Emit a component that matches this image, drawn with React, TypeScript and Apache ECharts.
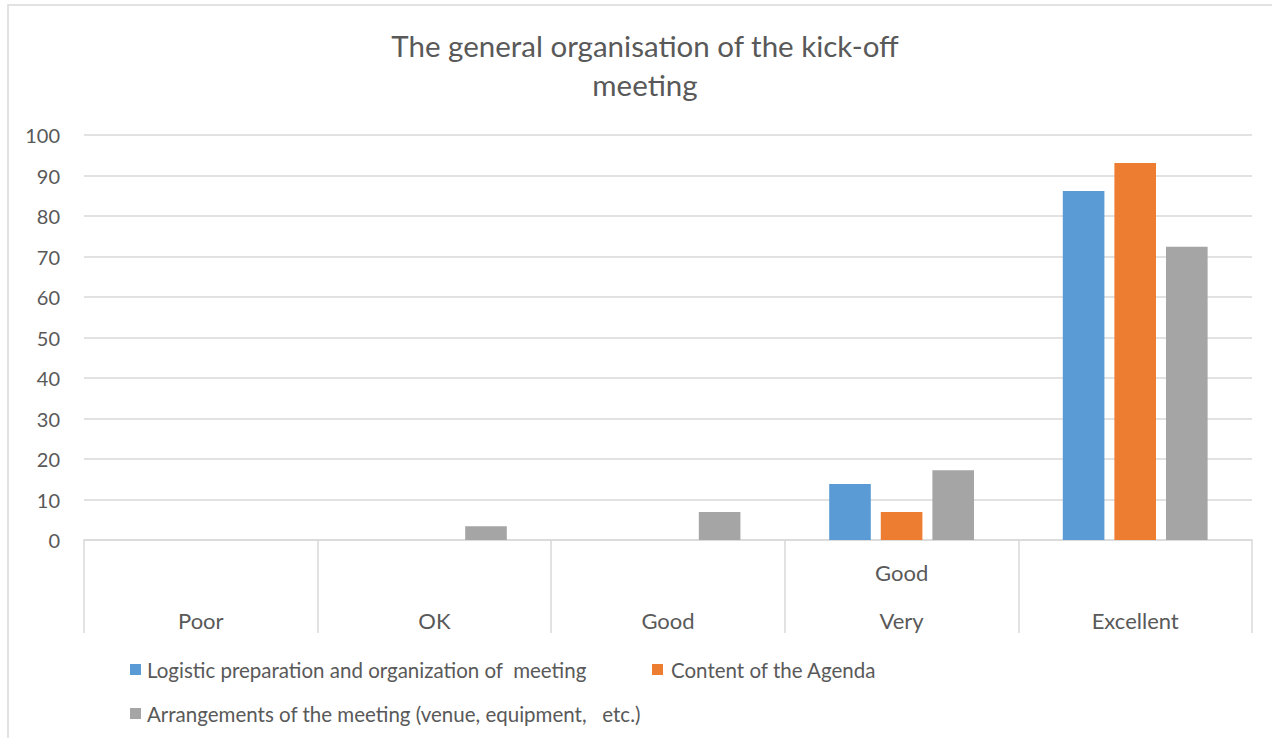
import React, { useEffect, useRef } from "react";
import * as echarts from "echarts";

const categories = ["Poor", "OK", "Good", "Very Good", "Excellent"];
const seriesNames = [
  "Logistic preparation and organization of  meeting",
  "Content of the Agenda",
  "Arrangements of the meeting (venue, equipment,   etc.)",
];
const logisticValues = [0, 0, 0, 13.8, 86.2];
const agendaValues = [0, 0, 0, 6.9, 93.1];
const arrangementValues = [0, 3.4, 6.9, 17.2, 72.4];
const yTicks = { min: 0, max: 100, interval: 10 };

const FONT = "Lato";
const TXT = "#595959";
const GRIDC = "#d9d9d9";
const COLORS = ["#5b9bd5", "#ed7d31", "#a5a5a5"];

export default function App() {
  const ref = useRef<HTMLDivElement>(null);
  useEffect(() => {
    if (!ref.current) return;
    const chart = echarts.init(ref.current, undefined, { renderer: "svg" });
    const values = [logisticValues, agendaValues, arrangementValues];
    const legendBase = {
      orient: "horizontal",
      itemWidth: 11,
      itemHeight: 11,
      itemGap: 5,
      icon: "rect",
      padding: 0,
    };
    const legendText = (padLeft: number) => ({
      fontFamily: FONT,
      fontSize: 20.5,
      lineHeight: 20,
      color: TXT,
      padding: [0, 0, 0, padLeft],
    });
    chart.setOption({
      animation: false,
      backgroundColor: "#ffffff",
      title: {
        text: "The general organisation of the kick-off\nmeeting",
        left: 645,
        textAlign: "center",
        top: 26,
        padding: 0,
        textStyle: {
          fontFamily: FONT,
          fontSize: 29.5,
          lineHeight: 39,
          fontWeight: "normal",
          color: TXT,
        },
      },
      graphic: [
        {
          type: "rect",
          shape: { x: 8, y: 5, width: 1400, height: 900 },
          style: { fill: "none", stroke: GRIDC, lineWidth: 1.5 },
          silent: true,
        },
      ],
      legend: [
        { ...legendBase, left: 130, top: 659, data: [seriesNames[0]], textStyle: legendText(1) },
        { ...legendBase, left: 652, top: 659, data: [seriesNames[1]], textStyle: legendText(3) },
        { ...legendBase, left: 130, top: 703, data: [seriesNames[2]], textStyle: legendText(1) },
      ],
      grid: { left: 84, right: 20, top: 135, bottom: 198, containLabel: false },
      xAxis: {
        type: "category",
        data: categories,
        axisLine: { lineStyle: { color: GRIDC, width: 1.5 } },
        axisTick: { show: true, interval: 0, length: 93, lineStyle: { color: GRIDC, width: 1.5 } },
        axisLabel: {
          interval: 0,
          fontFamily: FONT,
          fontSize: 22,
          color: TXT,
          lineHeight: 48,
          verticalAlign: "bottom",
          margin: 104,
          formatter: (v: string) => (v === "Very Good" ? "Good\nVery" : v),
        },
      },
      yAxis: {
        type: "value",
        min: yTicks.min,
        max: yTicks.max,
        interval: yTicks.interval,
        axisLine: { show: false },
        axisTick: { show: false },
        splitLine: { lineStyle: { color: GRIDC, width: 1.5 } },
        axisLabel: { fontFamily: FONT, fontSize: 20, color: TXT, margin: 24 },
      },
      series: seriesNames.map((name, i) => ({
        name,
        type: "bar",
        data: values[i],
        itemStyle: { color: COLORS[i] },
        barGap: "24%",
        barCategoryGap: "38%",
      })),
    });
    return () => chart.dispose();
  }, []);
  return (
    <div
      ref={ref}
      style={{ position: "fixed", left: 0, top: 0, width: 1272, height: 738 }}
    />
  );
}
